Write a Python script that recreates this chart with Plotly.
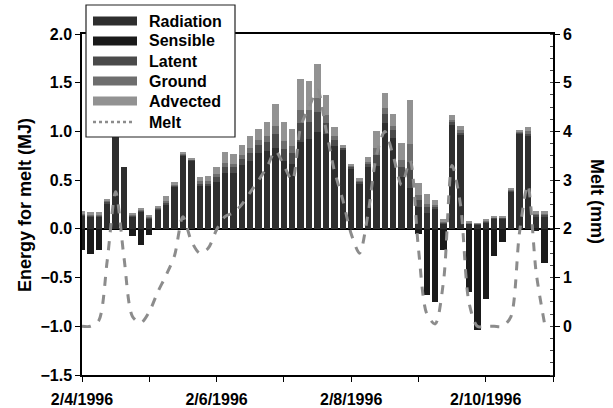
import pandas as pd
import plotly.graph_objects as go

# 3-hourly energy balance components for snowmelt (MJ) and melt (mm)
times = pd.date_range("1996-02-04 00:00", periods=56, freq="3h")

radiation = [0.14, 0.13, 0.13, 0.26, 1.00, 0.63, 0.13, 0.18, 0.11, 0.20,
             0.24, 0.43, 0.75, 0.70, 0.45, 0.44, 0.48, 0.57, 0.57, 0.66,
             0.70, 0.78, 0.80, 0.83, 0.70, 0.67, 0.89, 0.92, 0.99, 0.97,
             0.85, 0.81, 0.62, 0.47, 0.64, 0.65, 1.09, 0.93, 0.53, 0.42,
             0.22, 0.16, 0.20, 0.05, 1.07, 0.96, 0.05, 0.04, 0.07, 0.11,
             0.11, 0.38, 0.98, 0.95, 0.13, 0.13]
sensible = [-0.22, -0.26, -0.22, 0, 0, 0, -0.07, -0.17, -0.06, 0,
            0, 0, 0, 0, 0, 0, 0, 0, 0, 0,
            0, 0, 0, 0, 0, 0, 0, 0, 0, 0,
            0, 0, 0, 0, 0, 0, 0, 0, 0, 0,
            -0.05, -0.68, -0.75, -0.22, 0, 0, -0.65, -1.04, -0.72, -0.28,
            -0.13, 0, 0, 0, -0.02, -0.35]
latent = [0.01, 0.01, 0.01, 0.02, 0, 0, 0.01, 0.01, 0.01, 0.01,
          0.03, 0.02, 0.01, 0.01, 0.02, 0.03, 0.05, 0.07, 0.06, 0.06,
          0.08, 0.08, 0.09, 0.14, 0.12, 0.11, 0.20, 0.18, 0.21, 0.12,
          0.06, 0.02, 0.02, 0.02, 0.03, 0.11, 0.09, 0.08, 0.11, 0.27,
          0.08, 0.06, 0.03, 0.02, 0.03, 0.03, 0.01, 0.01, 0.01, 0.01,
          0.01, 0.01, 0.01, 0.03, 0.02, 0.02]
ground = [0.01, 0.01, 0.01, 0.01, 0, 0, 0.01, 0.01, 0.01, 0.01,
          0.02, 0.01, 0.01, 0, 0.02, 0.02, 0.03, 0.04, 0.04, 0.04,
          0.05, 0.05, 0.06, 0.09, 0.08, 0.07, 0.13, 0.12, 0.14, 0.08,
          0.04, 0.01, 0.01, 0.01, 0.02, 0.07, 0.06, 0.05, 0.07, 0.18,
          0.05, 0.04, 0.02, 0.01, 0.02, 0.02, 0.01, 0, 0.01, 0,
          0, 0.01, 0.01, 0.02, 0.01, 0.01]
advected = [0.02, 0.02, 0.02, 0.02, 0, 0, 0.01, 0.01, 0.01, 0.01,
            0.05, 0.02, 0.01, 0.01, 0.04, 0.05, 0.07, 0.11, 0.10, 0.10,
            0.12, 0.12, 0.15, 0.22, 0.20, 0.17, 0.32, 0.30, 0.35, 0.20,
            0.10, 0.02, 0.02, 0.02, 0.05, 0.17, 0.15, 0.12, 0.17, 0.45,
            0.12, 0.10, 0.05, 0.02, 0.05, 0.05, 0.01, 0.01, 0.01, 0.01,
            0.01, 0.01, 0.01, 0.05, 0.02, 0.02]
melt = [0.0, 0.0, 0.12, 1.35, 2.76, 1.4, 0.2, 0.07, 0.3, 0.7,
        1.05, 1.45, 2.25, 1.75, 1.5, 1.6, 1.98, 2.25, 2.33, 2.5,
        2.75, 3.0, 3.27, 3.6, 3.3, 3.0, 4.1, 4.5, 4.85, 4.05,
        3.2, 2.6, 1.9, 1.5, 2.3, 3.5, 4.0, 3.5, 2.9, 3.4,
        1.6, 0.25, 0.05, 0.95, 3.3, 2.5, 0.5, 0.0, 0.0, 0.0,
        0.0, 0.2, 1.9, 2.9, 1.1, 0.05]

series = [
    ("Radiation", radiation, "#2e2e2e"),
    ("Sensible", sensible, "#1a1a1a"),
    ("Latent", latent, "#4a4a4a"),
    ("Ground", ground, "#6e6e6e"),
    ("Advected", advected, "#929292"),
]
melt_color = "#8c8c8c"
tick_dates = ["1996-02-04", "1996-02-06", "1996-02-08", "1996-02-10"]
tick_text = ["2/4/1996", "2/6/1996", "2/8/1996", "2/10/1996"]

FONT = "Liberation Sans, Arial, sans-serif"
bar_width_ms = 0.76 * 3 * 3600 * 1000

fig = go.Figure()
for name, vals, color in series:
    fig.add_trace(go.Bar(
        x=times, y=vals, name=name, width=bar_width_ms,
        marker=dict(color=color, line=dict(width=0)),
        showlegend=False,
    ))

fig.add_trace(go.Scatter(
    x=times, y=melt, name="Melt", yaxis="y2", mode="lines",
    line=dict(color=melt_color, width=3, dash="dash", shape="spline", smoothing=0.8),
    showlegend=False,
))

# plot area in pixels: x 82..553, y 34..375
L, R, T, B = 82, 553, 34, 375
def px(x):
    return (x - L) / (R - L)
def py(y):
    return (B - y) / (B - T)

shapes = []
annotations = []

# legend box
shapes.append(dict(type="rect", xref="paper", yref="paper",
                   x0=px(86), x1=px(235), y0=py(137), y1=py(5),
                   line=dict(color="#222222", width=1.2), fillcolor="white",
                   layer="above"))
row_y = [21, 41, 61, 81, 101]
for (name, _, color), yc in zip(series, row_y):
    shapes.append(dict(type="rect", xref="paper", yref="paper",
                       x0=px(93), x1=px(137), y0=py(yc + 4.5), y1=py(yc - 4.5),
                       line=dict(width=0), fillcolor=color, layer="above"))
    annotations.append(dict(xref="paper", yref="paper", x=px(147), y=py(yc),
                            text=name, showarrow=False, xanchor="left", yanchor="middle",
                            font=dict(family=FONT, size=16, color="black", weight="bold")))
shapes.append(dict(type="line", xref="paper", yref="paper",
                   x0=px(93), x1=px(135), y0=py(122), y1=py(122),
                   line=dict(color=melt_color, width=2.5, dash="3px,3px"), layer="above"))
annotations.append(dict(xref="paper", yref="paper", x=px(147), y=py(122),
                        text="Melt", showarrow=False, xanchor="left", yanchor="middle",
                        font=dict(family=FONT, size=16, color="black", weight="bold")))

# axis titles
annotations.append(dict(xref="paper", yref="paper", x=px(25), y=py(205),
                        text="Energy for melt (MJ)", textangle=-90, showarrow=False,
                        xanchor="center", yanchor="middle",
                        font=dict(family=FONT, size=18, color="black", weight="bold")))
annotations.append(dict(xref="paper", yref="paper", x=px(597), y=py(201),
                        text="Melt (mm)", textangle=90, showarrow=False,
                        xanchor="center", yanchor="middle",
                        font=dict(family=FONT, size=18, color="black", weight="bold")))

tickfont = dict(family=FONT, size=16, color="black", weight="bold")

fig.update_layout(
    width=613, height=408,
    margin=dict(l=L, r=613 - R, t=T, b=408 - B, autoexpand=False),
    paper_bgcolor="white", plot_bgcolor="white",
    barmode="relative", bargap=0,
    shapes=shapes, annotations=annotations,
    xaxis=dict(
        type="date", automargin=False,
        range=["1996-02-04 00:00", "1996-02-11 00:00"],
        tickvals=tick_dates, ticktext=tick_text,
        tickfont=tickfont, ticks="outside", ticklen=5, tickwidth=1.2,
        tickcolor="black", ticklabelstandoff=4,
        minor=dict(tickvals=pd.date_range("1996-02-04", "1996-02-11", freq="1D"),
                   ticks="outside", ticklen=5, tickcolor="black"),
        showline=True, linecolor="black", linewidth=1.5, mirror=True,
        showgrid=False, zeroline=False,
    ),
    yaxis=dict(
        automargin=False,
        range=[-1.5, 2.0], tickvals=[-1.5, -1.0, -0.5, 0, 0.5, 1.0, 1.5, 2.0],
        tickformat=".1f", tickfont=tickfont,
        ticks="outside", ticklen=5, tickwidth=1.2, tickcolor="black",
        showline=True, linecolor="black", linewidth=1.5,
        showgrid=False, zeroline=True, zerolinecolor="black", zerolinewidth=1.5,
    ),
    yaxis2=dict(
        automargin=False,
        range=[-1, 6], tickvals=[0, 1, 2, 3, 4, 5, 6], overlaying="y", side="right",
        tickfont=tickfont, ticks="outside", ticklen=5, tickwidth=1.2, tickcolor="black",
        minor=dict(dtick=0.25, ticks="inside", ticklen=3, tickcolor="#444"),
        showline=True, linecolor="black", linewidth=1.5,
        showgrid=False, zeroline=False,
    ),
)

fig.write_html("out.html")
